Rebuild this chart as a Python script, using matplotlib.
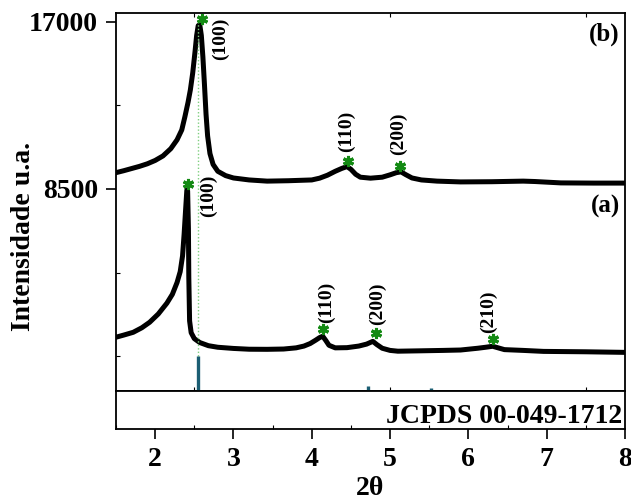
import numpy as np
import matplotlib.pyplot as plt
from matplotlib.ticker import MultipleLocator

plt.rcParams['font.family'] = ['Liberation Serif', 'DejaVu Serif']
plt.rcParams['font.weight'] = 'bold'

# pattern (a)
two_theta_a = [1.50, 1.60, 1.72, 1.83, 1.93, 2.04, 2.15, 2.22, 2.28, 2.32, 2.35, 2.37, 2.39,
               2.405, 2.415, 2.425, 2.43, 2.44, 2.46, 2.50, 2.57, 2.68, 2.80, 3.00, 3.20, 3.43,
               3.64, 3.80, 3.90, 3.98, 4.05, 4.10, 4.14, 4.18, 4.22, 4.30, 4.45, 4.60, 4.70,
               4.78, 4.83, 4.90, 5.00, 5.10, 5.40, 5.68, 5.90, 6.12, 6.22, 6.31, 6.38, 6.46,
               6.70, 6.96, 7.50, 8.00]
counts_a = [970, 1080, 1220, 1450, 1730, 2150, 2700, 3150, 3750, 4300, 5100, 6200, 7500,
            8450, 8400, 6500, 4000, 1800, 1200, 900, 700, 540, 460, 400, 360, 355,
            370, 430, 520, 650, 820, 950, 1020, 800, 560, 430, 440, 520, 620,
            760, 600, 410, 300, 260, 280, 300, 320, 410, 460, 510, 430, 340,
            300, 250, 230, 200]

# pattern (b)
two_theta_b = [1.50, 1.60, 1.70, 1.80, 1.90, 2.00, 2.10, 2.20, 2.28, 2.34, 2.38, 2.42, 2.45,
               2.48, 2.51, 2.53, 2.55, 2.57, 2.59, 2.61, 2.63, 2.65, 2.67, 2.70, 2.74, 2.80,
               2.90, 3.00, 3.20, 3.43, 3.70, 4.00, 4.10, 4.20, 4.30, 4.38, 4.45, 4.50, 4.56,
               4.62, 4.75, 4.90, 5.00, 5.08, 5.14, 5.20, 5.28, 5.40, 5.60, 5.90, 6.30, 6.70,
               6.85, 7.18, 7.60, 8.00]
counts_b = [9330, 9430, 9540, 9650, 9780, 9950, 10180, 10550, 11000, 11500, 12170, 12900, 13540,
            14400, 15500, 16300, 16800, 16850, 16300, 15200, 13800, 12300, 11200, 10300, 9750, 9400,
            9180, 9060, 8960, 8900, 8920, 8960, 9050, 9200, 9400, 9540, 9640, 9500, 9250,
            9100, 9050, 9100, 9220, 9330, 9370, 9230, 9060, 8960, 8900, 8860, 8870, 8900,
            8880, 8810, 8800, 8800]

# indexed reflections: star position and label anchor
hkl_labels = ['(100)', '(110)', '(200)', '(210)', '(100)', '(110)', '(200)']
star_x = [2.42, 4.14, 4.82, 6.31, 2.60, 4.46, 5.13]
star_y = [8750, 1390, 1180, 880, 17130, 9920, 9670]
label_x = [2.68, 4.19, 4.84, 6.26, 2.83, 4.44, 5.11]
label_y = [7075, 1680, 1580, 1170, 15070, 10380, 10230]

# JCPDS 00-049-1712 reference lines (relative intensity)
ref_pos = [2.55, 4.72, 5.52, 7.44]
ref_int = [100, 14, 9, 3]

fig = plt.figure(figsize=(6.31, 4.99), dpi=100)
ax = fig.add_axes([0.1838, 0.2164, 0.8067, 0.7575])
ax_ref = fig.add_axes([0.1838, 0.1403, 0.8067, 0.0762])

ax.plot(two_theta_a, counts_a, color='black', lw=3.6, solid_joinstyle='round')
ax.plot(two_theta_b, counts_b, color='black', lw=3.6, solid_joinstyle='round')
ax.vlines(ref_pos[0], 0, 16900, color='#7fcf7f', lw=1.0, linestyles=(0, (1, 1.5)))

ax.plot(star_x, star_y, ls='none', marker=(6, 2, 0), ms=8, mew=2.2, color='#138a13')
for lab, lx, ly in zip(hkl_labels, label_x, label_y):
    ax.text(lx, ly, lab, rotation=90, ha='center', va='bottom', fontsize=14, fontweight='bold')

ax.text(0.99, 0.976, '(b)', transform=ax.transAxes, ha='right', va='top', fontsize=18, fontweight='bold')
ax.text(0.99, 0.519, '(a)', transform=ax.transAxes, ha='right', va='top', fontsize=18, fontweight='bold')

# stick pattern drawn at the foot of the main panel
ax_st = ax.inset_axes([0, 0, 1, 0.092])
ax_st.vlines(ref_pos, 0, ref_int, color='#1b5e73', lw=2.4)
ax_st.set_xlim(1.5, 8)
ax_st.set_ylim(0, 100)
ax_st.axis('off')

ax.set_xlim(1.5, 8)
ax.set_ylim(-1763, 17440)
ax.set_yticks([8500, 17000])
ax.yaxis.set_minor_locator(MultipleLocator(4250))
ax.tick_params(axis='y', which='major', direction='out', length=7, width=1.2, labelsize=20, pad=6)
ax.tick_params(axis='y', which='minor', direction='in', length=3, width=0.8)
ax.set_xticks([2.5, 5, 7.5])
ax.tick_params(axis='x', which='major', direction='in', length=3, width=0.8, top=True, bottom=True, labelbottom=False)

ax_ref.set_xlim(1.5, 8)
ax_ref.set_ylim(0, 1)
ax_ref.set_yticks([])
ax_ref.set_xticks(np.arange(2, 9))
ax_ref.xaxis.set_minor_locator(MultipleLocator(0.5))
ax_ref.tick_params(axis='x', which='major', direction='out', length=7, width=1.2, labelsize=20, pad=6)
ax_ref.tick_params(axis='x', which='minor', direction='in', length=3, width=0.8)
ax_ref.text(0.994, 0.16, 'JCPDS 00-049-1712', transform=ax_ref.transAxes, ha='right', va='baseline',
            fontsize=20, fontweight='bold')
ax_ref.set_xlabel('2θ', fontsize=20, fontweight='bold', labelpad=3)

for a in (ax, ax_ref):
    for sp in a.spines.values():
        sp.set_linewidth(1.3)

fig.text(0.038, 0.526, 'Intensidade u.a.', rotation=90, ha='center', va='center', fontsize=20, fontweight='bold')

fig.savefig('out.png', dpi=100)
